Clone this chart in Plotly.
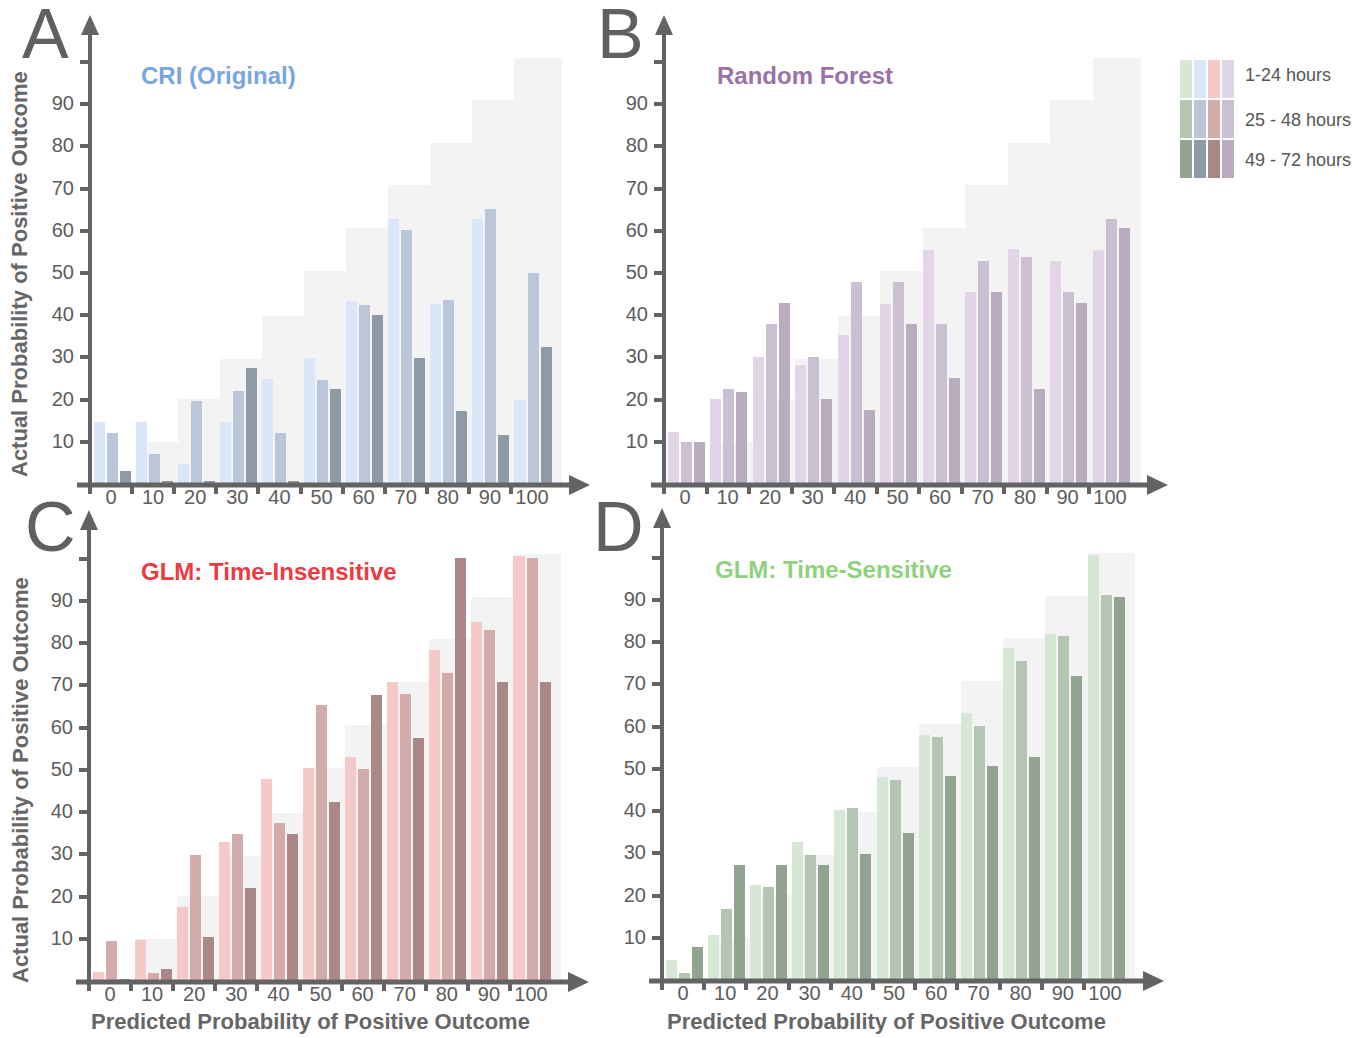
import plotly.graph_objects as go

# ---------------- data ----------------
bin_labels = ['0', '10', '20', '30', '40', '50', '60', '70', '80', '90', '100']
bin_index = list(range(11))

# grey background: perfect-calibration reference per bin
ideal = [0, 9.9, 20.1, 29.6, 39.8, 50.5, 60.6, 70.8, 80.9, 91.0, 101.0]

cri_1_24 = [14.7, 14.7, 4.7, 14.7, 24.9, 29.9, 43.4, 62.9, 42.7, 62.9, 19.9]
cri_25_48 = [12.0, 7.0, 19.6, 22.1, 12.0, 24.6, 42.5, 60.1, 43.6, 65.2, 50.0]
cri_49_72 = [3.1, 0.6, 0.6, 27.4, 0.6, 22.4, 40.1, 29.9, 17.3, 11.6, 32.4]

rf_1_24 = [12.4, 20.1, 30.1, 28.1, 35.3, 42.6, 55.5, 45.4, 55.8, 52.9, 55.5]
rf_25_48 = [9.9, 22.6, 37.8, 30.1, 47.9, 47.9, 37.8, 52.9, 53.9, 45.4, 62.8]
rf_49_72 = [9.9, 21.8, 42.8, 20.1, 17.6, 37.8, 25.1, 45.4, 22.6, 42.8, 60.6]

glmi_1_24 = [2.2, 9.8, 17.5, 32.8, 47.9, 50.4, 53.0, 70.7, 78.3, 84.9, 100.5]
glmi_25_48 = [9.5, 2.0, 29.8, 34.8, 37.3, 65.3, 50.2, 67.9, 73.0, 83.1, 100.2]
glmi_49_72 = [0.4, 2.8, 10.3, 22.0, 34.7, 42.3, 67.7, 57.5, 100.2, 70.7, 70.7]

glms_1_24 = [4.8, 10.6, 22.5, 32.7, 40.2, 48.0, 58.1, 63.2, 78.5, 82.0, 100.5]
glms_25_48 = [1.6, 16.9, 22.1, 29.6, 40.8, 47.4, 57.6, 60.1, 75.4, 81.5, 91.1]
glms_49_72 = [7.9, 27.3, 27.3, 27.3, 29.9, 34.9, 48.2, 50.7, 52.7, 72.0, 90.7]

y_tick_vals = [10, 20, 30, 40, 50, 60, 70, 80, 90, 100]
y_tick_text = ['10', '20', '30', '40', '50', '60', '70', '80', '90', '']

panel_titles = ['CRI (Original)', 'Random Forest', 'GLM: Time-Insensitive', 'GLM: Time-Sensitive']
panel_letters = ['A', 'B', 'C', 'D']
legend_labels = ['1-24 hours', '25 - 48 hours', '49 - 72 hours']
y_title = 'Actual Probability of Positive Outcome'
x_title = 'Predicted Probability of Positive Outcome'

# ---------------- styling ----------------
PAGE_W, PAGE_H = 1368, 1038
OFF = 8                      # default page margin of the html body
W, H = PAGE_W - OFF, PAGE_H - OFF
AX = '#636363'
TXT = '#5c5c5c'
GREY = '#f3f3f3'
FONT = 'Liberation Sans'

palettes = {
    'cri': ['#dae7f8', '#bcc6d9', '#8f9aa7'],
    'rf': ['#e3d5e8', '#cbbfd2', '#b9acbf'],
    'glmi': ['#f5c9c8', '#d4abab', '#a98887'],
    'glms': ['#d6e8d5', '#b4c6b3', '#93a392'],
}
title_colors = ['#77a6e1', '#9a72a8', '#ee3a3f', '#8fd27e']

panels = [
    dict(key='cri', series=[cri_1_24, cri_25_48, cri_49_72],
         X0=90, ux=42.1, xend=590, Y0=484, uy=4.22, ytop=15, tpos=(139, 75), lpos=(45, 34)),
    dict(key='rf', series=[rf_1_24, rf_25_48, rf_49_72],
         X0=664, ux=42.5, xend=1168, Y0=484, uy=4.22, ytop=15, tpos=(715, 75), lpos=(620, 34)),
    dict(key='glmi', series=[glmi_1_24, glmi_25_48, glmi_49_72],
         X0=89, ux=42.1, xend=589, Y0=981, uy=4.225, ytop=510, tpos=(139, 571), lpos=(50, 527)),
    dict(key='glms', series=[glms_1_24, glms_25_48, glms_49_72],
         X0=662, ux=42.2, xend=1164, Y0=980, uy=4.225, ytop=508, tpos=(713, 569), lpos=(618, 527)),
]


def px(x):
    return (x - OFF) / W


def py(y):
    return 1 - (y - OFF) / H


fig = go.Figure()
shapes = []
annotations = []
layout_axes = {}

bar_off0 = -0.5 + 0.083
bar_pitch = 0.309
bar_w = 0.262

for i, p in enumerate(panels):
    n = '' if i == 0 else str(i + 1)
    xa, ya = 'x' + n, 'y' + n
    X0, ux, xend, Y0, uy, ytop = p['X0'], p['ux'], p['xend'], p['Y0'], p['uy'], p['ytop']
    xmax = -0.5 + (xend - X0) / ux
    ymax = (Y0 - ytop) / uy

    fig.add_trace(go.Bar(x=bin_index, y=ideal, xaxis=xa, yaxis=ya,
                         width=[1.0] * 10 + [1.13], offset=bar_off0,
                         marker=dict(color=GREY, line=dict(width=0)),
                         showlegend=False, hoverinfo='skip'))
    for j, vals in enumerate(p['series']):
        fig.add_trace(go.Bar(x=bin_index, y=vals, xaxis=xa, yaxis=ya,
                             width=bar_w, offset=bar_off0 + j * bar_pitch,
                             marker=dict(color=palettes[p['key']][j], line=dict(width=0)),
                             name=legend_labels[j], showlegend=False))

    layout_axes['xaxis' + n] = dict(
        domain=[px(X0), px(xend)], range=[-0.5001, xmax], anchor=ya,
        tickmode='array', tickvals=[k - 0.5 for k in bin_index], ticktext=bin_labels,
        ticks='outside', ticklen=9, tickwidth=4, tickcolor=AX,
        ticklabelshift=21, ticklabelstandoff=-14,
        showline=False, showgrid=False, zeroline=False,
        tickfont=dict(family=FONT, size=20, color=TXT), fixedrange=True)
    layout_axes['yaxis' + n] = dict(
        domain=[py(Y0), py(ytop)], range=[0, ymax], anchor=xa,
        tickmode='array', tickvals=y_tick_vals, ticktext=y_tick_text,
        ticks='outside', ticklen=9, tickwidth=4, tickcolor=AX,
        ticklabelshift=-1, ticklabelstandoff=2,
        showline=False, showgrid=False, zeroline=False,
        tickfont=dict(family=FONT, size=20, color=TXT), fixedrange=True)

    shapes.append(dict(type='line', xref='paper', yref='paper', layer='above',
                       x0=px(X0 - 13), x1=px(xend - 15), y0=py(Y0 + 1), y1=py(Y0 + 1),
                       line=dict(color=AX, width=5)))
    shapes.append(dict(type='line', xref='paper', yref='paper', layer='above',
                       x0=px(X0), x1=px(X0), y0=py(Y0 + 1), y1=py(ytop + 15),
                       line=dict(color=AX, width=4)))
    shapes.append(dict(type='path', xref='paper', yref='paper', layer='above',
                       path=f'M {px(X0)} {py(ytop)} L {px(X0 + 9)} {py(ytop + 20)} '
                            f'L {px(X0 - 9)} {py(ytop + 20)} Z',
                       fillcolor=AX, line=dict(width=0)))
    shapes.append(dict(type='path', xref='paper', yref='paper', layer='above',
                       path=f'M {px(xend)} {py(Y0 + 1)} L {px(xend - 21)} {py(Y0 - 9)} '
                            f'L {px(xend - 21)} {py(Y0 + 11)} Z',
                       fillcolor=AX, line=dict(width=0)))

    tx, ty = p['tpos']
    annotations.append(dict(text=f'<b>{panel_titles[i]}</b>', xref='paper', yref='paper',
                            x=px(tx), y=py(ty), xanchor='left', yanchor='middle', showarrow=False,
                            font=dict(family=FONT, size=24, color=title_colors[i])))
    lx, ly = p['lpos']
    annotations.append(dict(text=panel_letters[i], xref='paper', yref='paper',
                            x=px(lx), y=py(ly), xanchor='center', yanchor='middle', showarrow=False,
                            font=dict(family=FONT, size=70, color='#606060')))

for yc in (274, 780):
    annotations.append(dict(text=f'<b>{y_title}</b>', xref='paper', yref='paper',
                            x=px(20), y=py(yc), xanchor='center', yanchor='middle',
                            textangle=-90, showarrow=False,
                            font=dict(family=FONT, size=22, color='#666666')))
for xc in (310, 886):
    annotations.append(dict(text=f'<b>{x_title}</b>', xref='paper', yref='paper',
                            x=px(xc), y=py(1021), xanchor='center', yanchor='middle',
                            showarrow=False, font=dict(family=FONT, size=22, color='#666666')))

legend_cols = [palettes['glms'], palettes['cri'], palettes['glmi'], palettes['rf']]
col_x = [1180, 1194, 1208, 1222]
row_y = [(60, 98), (100, 138), (140, 178)]
for ci, pal in enumerate(legend_cols):
    for ri, (y0, y1) in enumerate(row_y):
        shapes.append(dict(type='rect', xref='paper', yref='paper',
                           x0=px(col_x[ci]), x1=px(col_x[ci] + 12), y0=py(y1), y1=py(y0),
                           fillcolor=pal[ri], line=dict(width=0)))
for ri, lab in enumerate(legend_labels):
    annotations.append(dict(text=lab, xref='paper', yref='paper',
                            x=px(1243), y=py([75, 120, 160][ri]), xanchor='left', yanchor='middle',
                            showarrow=False, font=dict(family=FONT, size=18, color='#555555')))

fig.update_layout(
    width=W, height=H, margin=dict(l=0, r=0, t=0, b=0),
    paper_bgcolor='white', plot_bgcolor='rgba(0,0,0,0)',
    barmode='overlay', bargap=0, showlegend=False, hovermode=False,
    shapes=shapes, annotations=annotations, **layout_axes)

fig.write_html('out.html', config={'displayModeBar': False})
